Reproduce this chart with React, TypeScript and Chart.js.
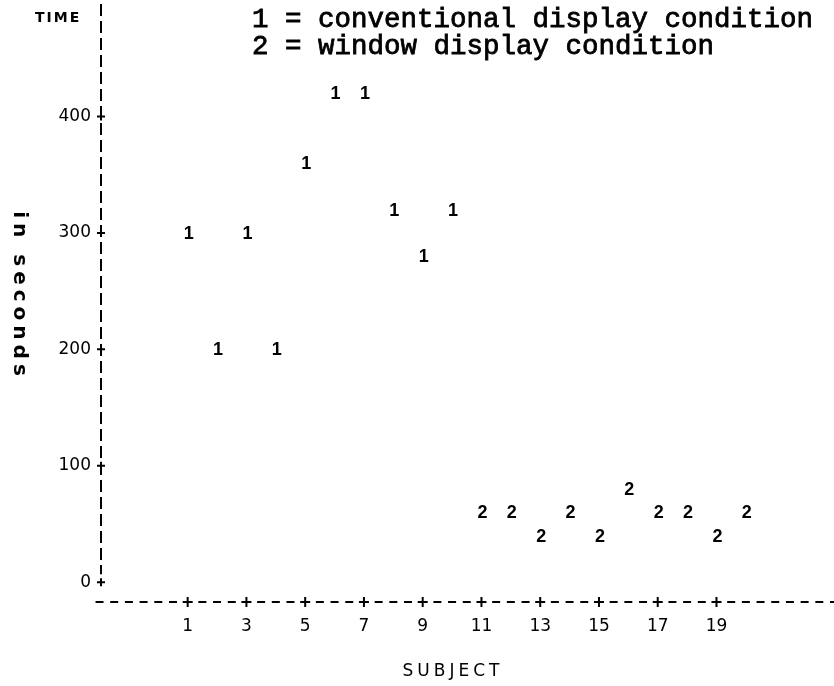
import React, { useEffect, useRef } from "react";
import { Chart, registerables } from "chart.js";

Chart.register(...registerables);

// ---- data ----
const conventionalSubjects = [1, 2, 3, 4, 5, 6, 7, 8, 9, 10];
const conventionalTimes = [300, 200, 300, 200, 360, 420, 420, 320, 280, 320];
const windowSubjects = [11, 12, 13, 14, 15, 16, 17, 18, 19, 20];
const windowTimes = [60, 60, 40, 60, 40, 80, 60, 60, 40, 60];
const seriesSymbols = ["1", "2"];
const seriesLabels = ["conventional display condition", "window display condition"];
const xTickValues = [1, 3, 5, 7, 9, 11, 13, 15, 17, 19];
const yTickValues = [0, 100, 200, 300, 400];
const yTitleTop = "TIME";
const yTitleSide = "in seconds";
const xTitle = "SUBJECT";

const INK = "#000";

const printerPlugin = {
  id: "printerPlot",
  afterDatasetsDraw(chart: any) {
    const { ctx } = chart;
    ctx.save();
    ctx.fillStyle = INK;
    ctx.font = 'bold 18px "Liberation Sans"';
    ctx.textAlign = "center";
    ctx.textBaseline = "middle";
    chart.data.datasets.forEach((ds: any, i: number) => {
      const meta = chart.getDatasetMeta(i);
      meta.data.forEach((el: any) => {
        ctx.fillText(ds.symbol, el.x + 1, el.y + 1);
      });
    });
    ctx.restore();
  },
  afterDraw(chart: any) {
    const { ctx, chartArea, scales } = chart;
    const xs = scales.x;
    const ys = scales.y;
    ctx.save();
    ctx.strokeStyle = INK;
    ctx.fillStyle = INK;
    ctx.lineWidth = 2;
    ctx.lineCap = "butt";

    // horizontal dashed axis with "+" at ticks
    const axisY = chartArea.bottom;
    const x1 = xs.getPixelForValue(xTickValues[0]);
    const pitch = (xs.getPixelForValue(xTickValues[1]) - x1) / 4;
    const kStart = Math.ceil((chartArea.left - 3 - x1) / pitch);
    const kEnd = Math.floor((chartArea.right + 4 - x1) / pitch);
    const tickSet = new Set(xTickValues);
    for (let k = kStart; k <= kEnd; k++) {
      const px = x1 + k * pitch;
      const v = xTickValues[0] + k / 2;
      ctx.beginPath();
      if (k % 4 === 0 && tickSet.has(v)) {
        ctx.moveTo(px - 5, axisY);
        ctx.lineTo(px + 5, axisY);
        ctx.moveTo(px, axisY - 5);
        ctx.lineTo(px, axisY + 5);
      } else {
        ctx.moveTo(px - 4, axisY);
        ctx.lineTo(px + 4, axisY);
      }
      ctx.stroke();
    }

    // vertical dashed axis
    const axisX = chartArea.left;
    const y0 = ys.getPixelForValue(yTickValues[0]);
    ctx.beginPath();
    ctx.setLineDash([12, 5]);
    ctx.moveTo(axisX, chartArea.top + 4);
    ctx.lineTo(axisX, y0 - 8);
    ctx.stroke();
    ctx.setLineDash([]);
    yTickValues.forEach((v) => {
      const py = ys.getPixelForValue(v);
      ctx.beginPath();
      ctx.moveTo(axisX - 4, py);
      ctx.lineTo(axisX + 4, py);
      ctx.moveTo(axisX, py - 4);
      ctx.lineTo(axisX, py + 4);
      ctx.stroke();
    });

    // legend (key) text
    ctx.font = '27.5px "Liberation Mono"';
    ctx.textAlign = "left";
    ctx.textBaseline = "middle";
    ctx.lineWidth = 0.8;
    chart.data.datasets.forEach((ds: any, i: number) => {
      const t = `${ds.symbol} = ${ds.label}`;
      ctx.fillText(t, 252, 20 + i * 27);
      ctx.strokeText(t, 252, 20 + i * 27);
    });
    ctx.lineWidth = 2;

    // titles
    (ctx as any).letterSpacing = "2px";
    ctx.font = 'bold 14px "DejaVu Sans"';
    ctx.fillText(yTitleTop, 35, 18);

    ctx.save();
    (ctx as any).letterSpacing = "5px";
    ctx.translate(19, 296);
    ctx.rotate(Math.PI / 2);
    ctx.textAlign = "center";
    ctx.font = 'bold 20px "DejaVu Sans"';
    ctx.fillText(yTitleSide, 0, 0);
    ctx.restore();

    (ctx as any).letterSpacing = "4px";
    ctx.textAlign = "center";
    ctx.font = '17px "DejaVu Sans"';
    ctx.fillText(xTitle, 453, 672);
    ctx.restore();
  },
};

export default function App() {
  const ref = useRef<HTMLCanvasElement>(null);
  useEffect(() => {
    const canvas = ref.current!;
    const chart = new Chart(canvas, {
      type: "scatter",
      data: {
        datasets: [
          {
            label: seriesLabels[0],
            symbol: seriesSymbols[0],
            data: conventionalSubjects.map((s, i) => ({ x: s, y: conventionalTimes[i] })),
            pointRadius: 0,
            pointHoverRadius: 0,
            pointHitRadius: 8,
            showLine: false,
          } as any,
          {
            label: seriesLabels[1],
            symbol: seriesSymbols[1],
            data: windowSubjects.map((s, i) => ({ x: s, y: windowTimes[i] })),
            pointRadius: 0,
            pointHoverRadius: 0,
            pointHitRadius: 8,
            showLine: false,
          } as any,
        ],
      },
      options: {
        animation: false,
        responsive: false,
        devicePixelRatio: 1,
        layout: { padding: 0 },
        plugins: {
          legend: { display: false },
          tooltip: { enabled: false },
        },
        scales: {
          x: {
            type: "linear",
            min: -1.95,
            max: 23,
            afterBuildTicks: (s: any) => {
              s.ticks = xTickValues.map((v) => ({ value: v }));
            },
            afterFit: (s: any) => {
              s.height = 84;
              s.paddingLeft = 0;
              s.paddingRight = 0;
            },
            grid: { display: false, drawTicks: false },
            border: { display: false },
            ticks: {
              color: INK,
              padding: 14,
              maxRotation: 0,
              autoSkip: false,
              font: { family: "DejaVu Sans", size: 17 },
              callback: (v: any) => String(v),
            },
          },
          y: {
            type: "linear",
            min: -17,
            max: 500,
            afterBuildTicks: (s: any) => {
              s.ticks = yTickValues.map((v) => ({ value: v }));
            },
            afterFit: (s: any) => {
              s.width = 101;
              s.paddingTop = 0;
              s.paddingBottom = 0;
            },
            grid: { display: false, drawTicks: false },
            border: { display: false },
            ticks: {
              color: INK,
              padding: 10,
              autoSkip: false,
              font: { family: "DejaVu Sans", size: 17 },
              callback: (v: any) => String(v),
            },
          },
        },
      },
      plugins: [printerPlugin],
    });
    return () => chart.destroy();
  }, []);
  return (
    <div style={{ position: "absolute", left: 0, top: 0, width: 834, height: 686, background: "#fff" }}>
      <canvas ref={ref} width={834} height={686} style={{ display: "block", width: 834, height: 686 }} />
    </div>
  );
}
